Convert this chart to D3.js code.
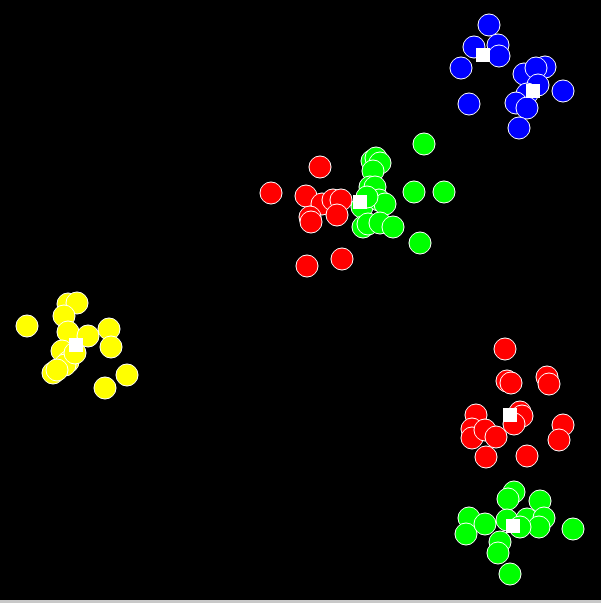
<!DOCTYPE html>
<html><head><meta charset="utf-8">
<script src="https://cdn.jsdelivr.net/npm/d3@7"></script>
<style>
html,body{margin:0;padding:0;background:#c8c8c8;overflow:hidden;}
svg{display:block;}
</style></head>
<body>
<script>
// cluster labels and colours
const clusters = ["A","B","C","D","E","F"];
const clusterColors = ["#0000ff","#ff0000","#00ff00","#ffff00","#ff0000","#00ff00"];

// points per cluster (x, y in data units)
const blueX = [489,474,498,499,461,469,524,545,536,538,527,516,527,563,519];
const blueY = [25,47,45,56,68,104,74,67,68,85,94,103,108,91,128];
const redMidX = [320,271,306,322,333,341,310,311,337,307,342];
const redMidY = [167,193,196,204,200,200,217,222,215,266,259];
const greenMidX = [424,372,376,380,373,370,375,362,379,385,363,368,380,393,414,444,420,367];
const greenMidY = [144,161,158,163,171,187,187,207,200,204,227,224,223,227,192,192,243,197];
const yellowX = [27,68,77,64,68,88,109,111,62,68,65,53,57,127,105,75];
const yellowY = [326,304,303,316,332,336,329,347,351,362,365,373,370,375,388,353];
const redLowX = [505,507,511,547,549,520,522,514,476,472,472,485,496,563,559,486,527];
const redLowY = [349,381,383,377,384,412,416,424,415,429,438,430,437,425,440,457,456];
const greenLowX = [514,508,540,469,466,485,507,527,544,539,520,500,498,510,573];
const greenLowY = [492,499,501,518,534,524,520,519,518,527,527,542,553,574,529];

// centroids
const centroidX = [483,533,360,76,510,513];
const centroidY = [55,91,202,345,415,526];

const W = 601, H = 600;
const x = d3.scaleLinear().domain([0, 601]).range([0, W]);
const y = d3.scaleLinear().domain([0, 600]).range([0, H]);

const svg = d3.select("body").append("svg").attr("width", W).attr("height", H);
svg.append("rect").attr("width", W).attr("height", H).attr("fill", "#000");

const groups = [
  {xs: blueX, ys: blueY, c: clusterColors[0]},
  {xs: redMidX, ys: redMidY, c: clusterColors[1]},
  {xs: greenMidX, ys: greenMidY, c: clusterColors[2]},
  {xs: yellowX, ys: yellowY, c: clusterColors[3]},
  {xs: redLowX, ys: redLowY, c: clusterColors[4]},
  {xs: greenLowX, ys: greenLowY, c: clusterColors[5]}
];
groups.forEach(g => {
  const pts = g.xs.map((v, i) => ({x: v, y: g.ys[i]}));
  svg.append("g").selectAll("circle").data(pts).join("circle")
    .attr("cx", d => x(d.x)).attr("cy", d => y(d.y)).attr("r", 11)
    .attr("fill", g.c).attr("stroke", "#fff").attr("stroke-width", 1);
});

const cents = centroidX.map((v, i) => ({x: v, y: centroidY[i]}));
svg.append("g").selectAll("rect").data(cents).join("rect")
  .attr("x", d => x(d.x) - 7).attr("y", d => y(d.y) - 7)
  .attr("width", 14).attr("height", 14).attr("fill", "#fff");
</script>
</body></html>
